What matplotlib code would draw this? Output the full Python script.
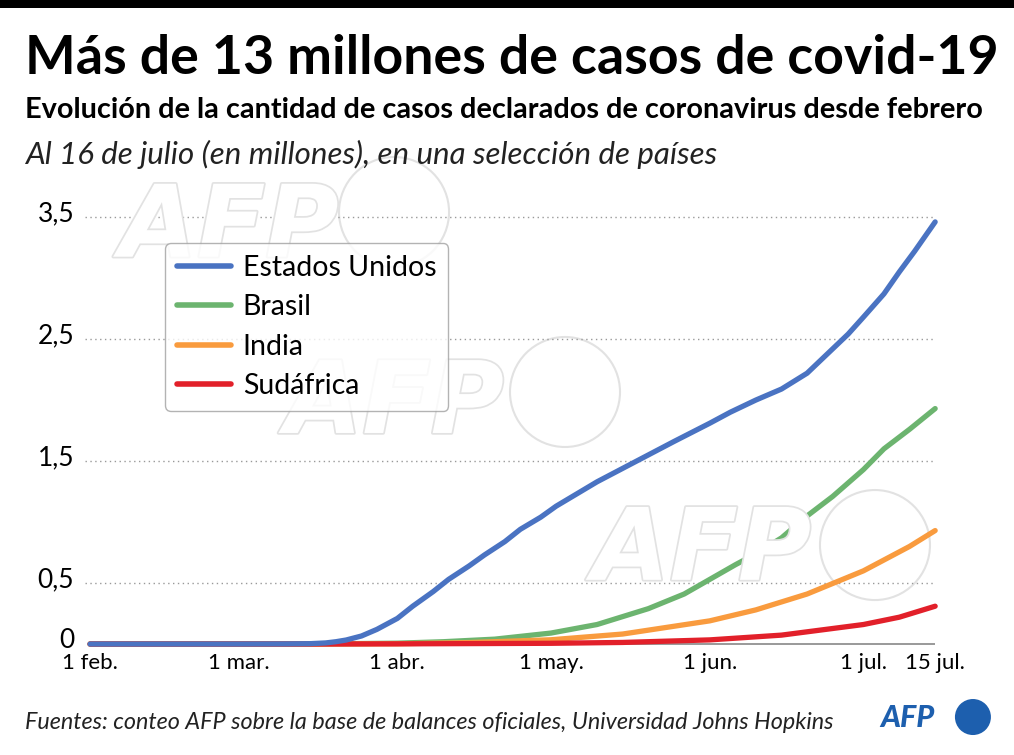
import numpy as np
import matplotlib
matplotlib.use('Agg')
import matplotlib.pyplot as plt
import matplotlib.patheffects as pe
import matplotlib.transforms as mtransforms
from matplotlib.patches import Ellipse

plt.rcParams['font.family'] = ['Lato', 'DejaVu Sans']

# casos acumulados declarados, en millones (2020)
us_dates = ['2020-02-01', '2020-03-01', '2020-03-10', '2020-03-15', '2020-03-18',
            '2020-03-20', '2020-03-22', '2020-03-25', '2020-03-28', '2020-04-01',
            '2020-04-04', '2020-04-08', '2020-04-11', '2020-04-15', '2020-04-18',
            '2020-04-22', '2020-04-25', '2020-04-29', '2020-05-02', '2020-05-06',
            '2020-05-10', '2020-05-15', '2020-05-20', '2020-05-25', '2020-06-01',
            '2020-06-05', '2020-06-10', '2020-06-15', '2020-06-20', '2020-06-25',
            '2020-06-28', '2020-07-01', '2020-07-05', '2020-07-08', '2020-07-11',
            '2020-07-15']
us_cases = [0, 0.0001, 0.001, 0.003, 0.009,
            0.019, 0.033, 0.066, 0.12, 0.21,
            0.31, 0.43, 0.53, 0.64, 0.73,
            0.84, 0.94, 1.04, 1.13, 1.23,
            1.33, 1.44, 1.55, 1.66, 1.81,
            1.90, 2.00, 2.09, 2.22, 2.42,
            2.54, 2.68, 2.87, 3.05, 3.22,
            3.46]

br_dates = ['2020-02-01', '2020-03-15', '2020-04-01', '2020-04-10', '2020-04-20',
            '2020-05-01', '2020-05-10', '2020-05-20', '2020-05-27', '2020-06-01',
            '2020-06-06', '2020-06-10', '2020-06-15', '2020-06-20', '2020-06-25',
            '2020-07-01', '2020-07-05', '2020-07-10', '2020-07-15']
br_cases = [0, 0.0002, 0.007, 0.019, 0.04,
            0.09, 0.16, 0.29, 0.41, 0.53,
            0.65, 0.74, 0.87, 1.05, 1.21,
            1.43, 1.60, 1.76, 1.93]

in_dates = ['2020-02-01', '2020-03-15', '2020-04-01', '2020-04-15', '2020-05-01',
            '2020-05-15', '2020-06-01', '2020-06-10', '2020-06-20', '2020-07-01',
            '2020-07-10', '2020-07-15']
in_cases = [0, 0.0001, 0.002, 0.012, 0.035,
            0.082, 0.19, 0.28, 0.41, 0.60,
            0.80, 0.93]

za_dates = ['2020-02-01', '2020-03-15', '2020-04-01', '2020-05-01', '2020-05-15',
            '2020-06-01', '2020-06-15', '2020-07-01', '2020-07-08', '2020-07-15']
za_cases = [0, 0.00005, 0.0014, 0.006, 0.013,
            0.034, 0.073, 0.16, 0.22, 0.31]

tick_dates = ['2020-02-01', '2020-03-01', '2020-04-01', '2020-05-01',
              '2020-06-01', '2020-07-01', '2020-07-15']
tick_labels = ['1 feb.', '1 mar.', '1 abr.', '1 may.', '1 jun.', '1 jul.', '15 jul.']
y_ticks = [0, 0.5, 1.5, 2.5, 3.5]
y_labels = ['0', '0,5', '1,5', '2,5', '3,5']

series = [
    ('Brasil', br_dates, br_cases, '#6cb46f'),
    ('India', in_dates, in_cases, '#f99b3e'),
    ('Sudáfrica', za_dates, za_cases, '#e2202a'),
    ('Estados Unidos', us_dates, us_cases, '#4a73c2'),
]
legend_order = ['Estados Unidos', 'Brasil', 'India', 'Sudáfrica']

fig = plt.figure(figsize=(10.14, 7.55), dpi=100)

# barra negra superior
fig.add_artist(plt.Rectangle((0, 0.989), 1, 0.011, transform=fig.transFigure,
                             color='black', lw=0))

ax = fig.add_axes([0.0787, 0.1389, 0.8587, 0.5898])
d0 = np.datetime64('2020-02-01')
ax.set_xlim(d0 - np.timedelta64(2, 'D'), d0 + np.timedelta64(168, 'D'))
ax.set_ylim(-0.05, 3.6)
ax.set_facecolor('none')

# marcas de agua
wm_color = '#e2e2e2'
for (wx, wy) in [(0.118, 0.66), (0.281, 0.4265), (0.584, 0.232)]:
    fig.text(wx, wy, 'AFP', fontsize=72, fontweight='bold', fontstyle='oblique',
             family='DejaVu Sans', color='white', zorder=0, va='baseline',
             path_effects=[pe.withStroke(linewidth=2.5, foreground=wm_color)])
for (cx, cy) in [(0.3886, 0.7192), (0.5572, 0.4808), (0.8629, 0.2781)]:
    fig.add_artist(Ellipse((cx, cy), 0.1085, 0.1457, transform=fig.transFigure,
                           facecolor='white', edgecolor=wm_color, lw=1.5, zorder=0))

# líneas de guía
x_start = d0 - np.timedelta64(1, 'D')
x_end = d0 + np.timedelta64(165, 'D')
ax.hlines(y_ticks[1:], x_start, x_end, colors='#999999', linestyles=(0, (1, 2.5)),
          lw=1, zorder=1)
ax.hlines(0, d0, x_end, colors='#888888', lw=1.2, zorder=1)

handles = {}
for name, dates, cases, color in series:
    ln, = ax.plot(np.array(dates, dtype='datetime64[D]'), cases, color=color,
                  lw=3.8, solid_capstyle='round', label=name, zorder=3)
    handles[name] = ln

ax.set_xticks(np.array(tick_dates, dtype='datetime64[D]'))
ax.set_xticklabels(tick_labels, fontsize=16)
ax.set_yticks(y_ticks)
ax.set_yticklabels(y_labels, fontsize=19)
ax.tick_params(length=0, pad=2)
ax.tick_params(axis='y', pad=4)
shift = mtransforms.ScaledTranslation(0, -4 / 100, fig.dpi_scale_trans)
for lab in ax.get_yticklabels():
    lab.set_verticalalignment('baseline')
    lab.set_transform(lab.get_transform() + shift)
for s in ax.spines.values():
    s.set_visible(False)

leg = fig.legend([handles[n] for n in legend_order], legend_order,
                 loc='upper left', bbox_to_anchor=(0.163, 0.678), fontsize=20.5,
                 frameon=True, fancybox=True, framealpha=0.8, borderaxespad=0,
                 edgecolor='#a0a0a0', handlelength=1.9, handletextpad=0.4,
                 labelspacing=0.47, borderpad=0.42)
leg.get_frame().set_linewidth(1)
for l in leg.get_lines():
    l.set_linewidth(4)

# textos
fig.text(0.025, 0.902, 'Más de 13 millones de casos de covid-19', fontsize=38.6,
         fontweight='bold', va='baseline')
fig.text(0.025, 0.844, 'Evolución de la cantidad de casos declarados de coronavirus desde febrero',
         fontsize=20.8, fontweight='bold', va='baseline')
fig.text(0.025, 0.783, 'Al 16 de julio (en millones), en una selección de países',
         fontsize=22.5, fontstyle='italic', va='baseline', color='#222222')
fig.text(0.025, 0.035,
         'Fuentes: conteo AFP sobre la base de balances oficiales, Universidad Johns Hopkins',
         fontsize=16.8, fontstyle='italic', va='baseline', color='#222222')

# logo AFP
afp_blue = '#1d5fae'
fig.text(0.868, 0.037, 'AFP', fontsize=22, fontweight='black', fontstyle='italic',
         color=afp_blue, va='baseline')
fig.add_artist(Ellipse((0.9595, 0.0503), 0.0355, 0.0477, transform=fig.transFigure,
                       color=afp_blue, lw=0))

fig.savefig('out.png', dpi=100)
